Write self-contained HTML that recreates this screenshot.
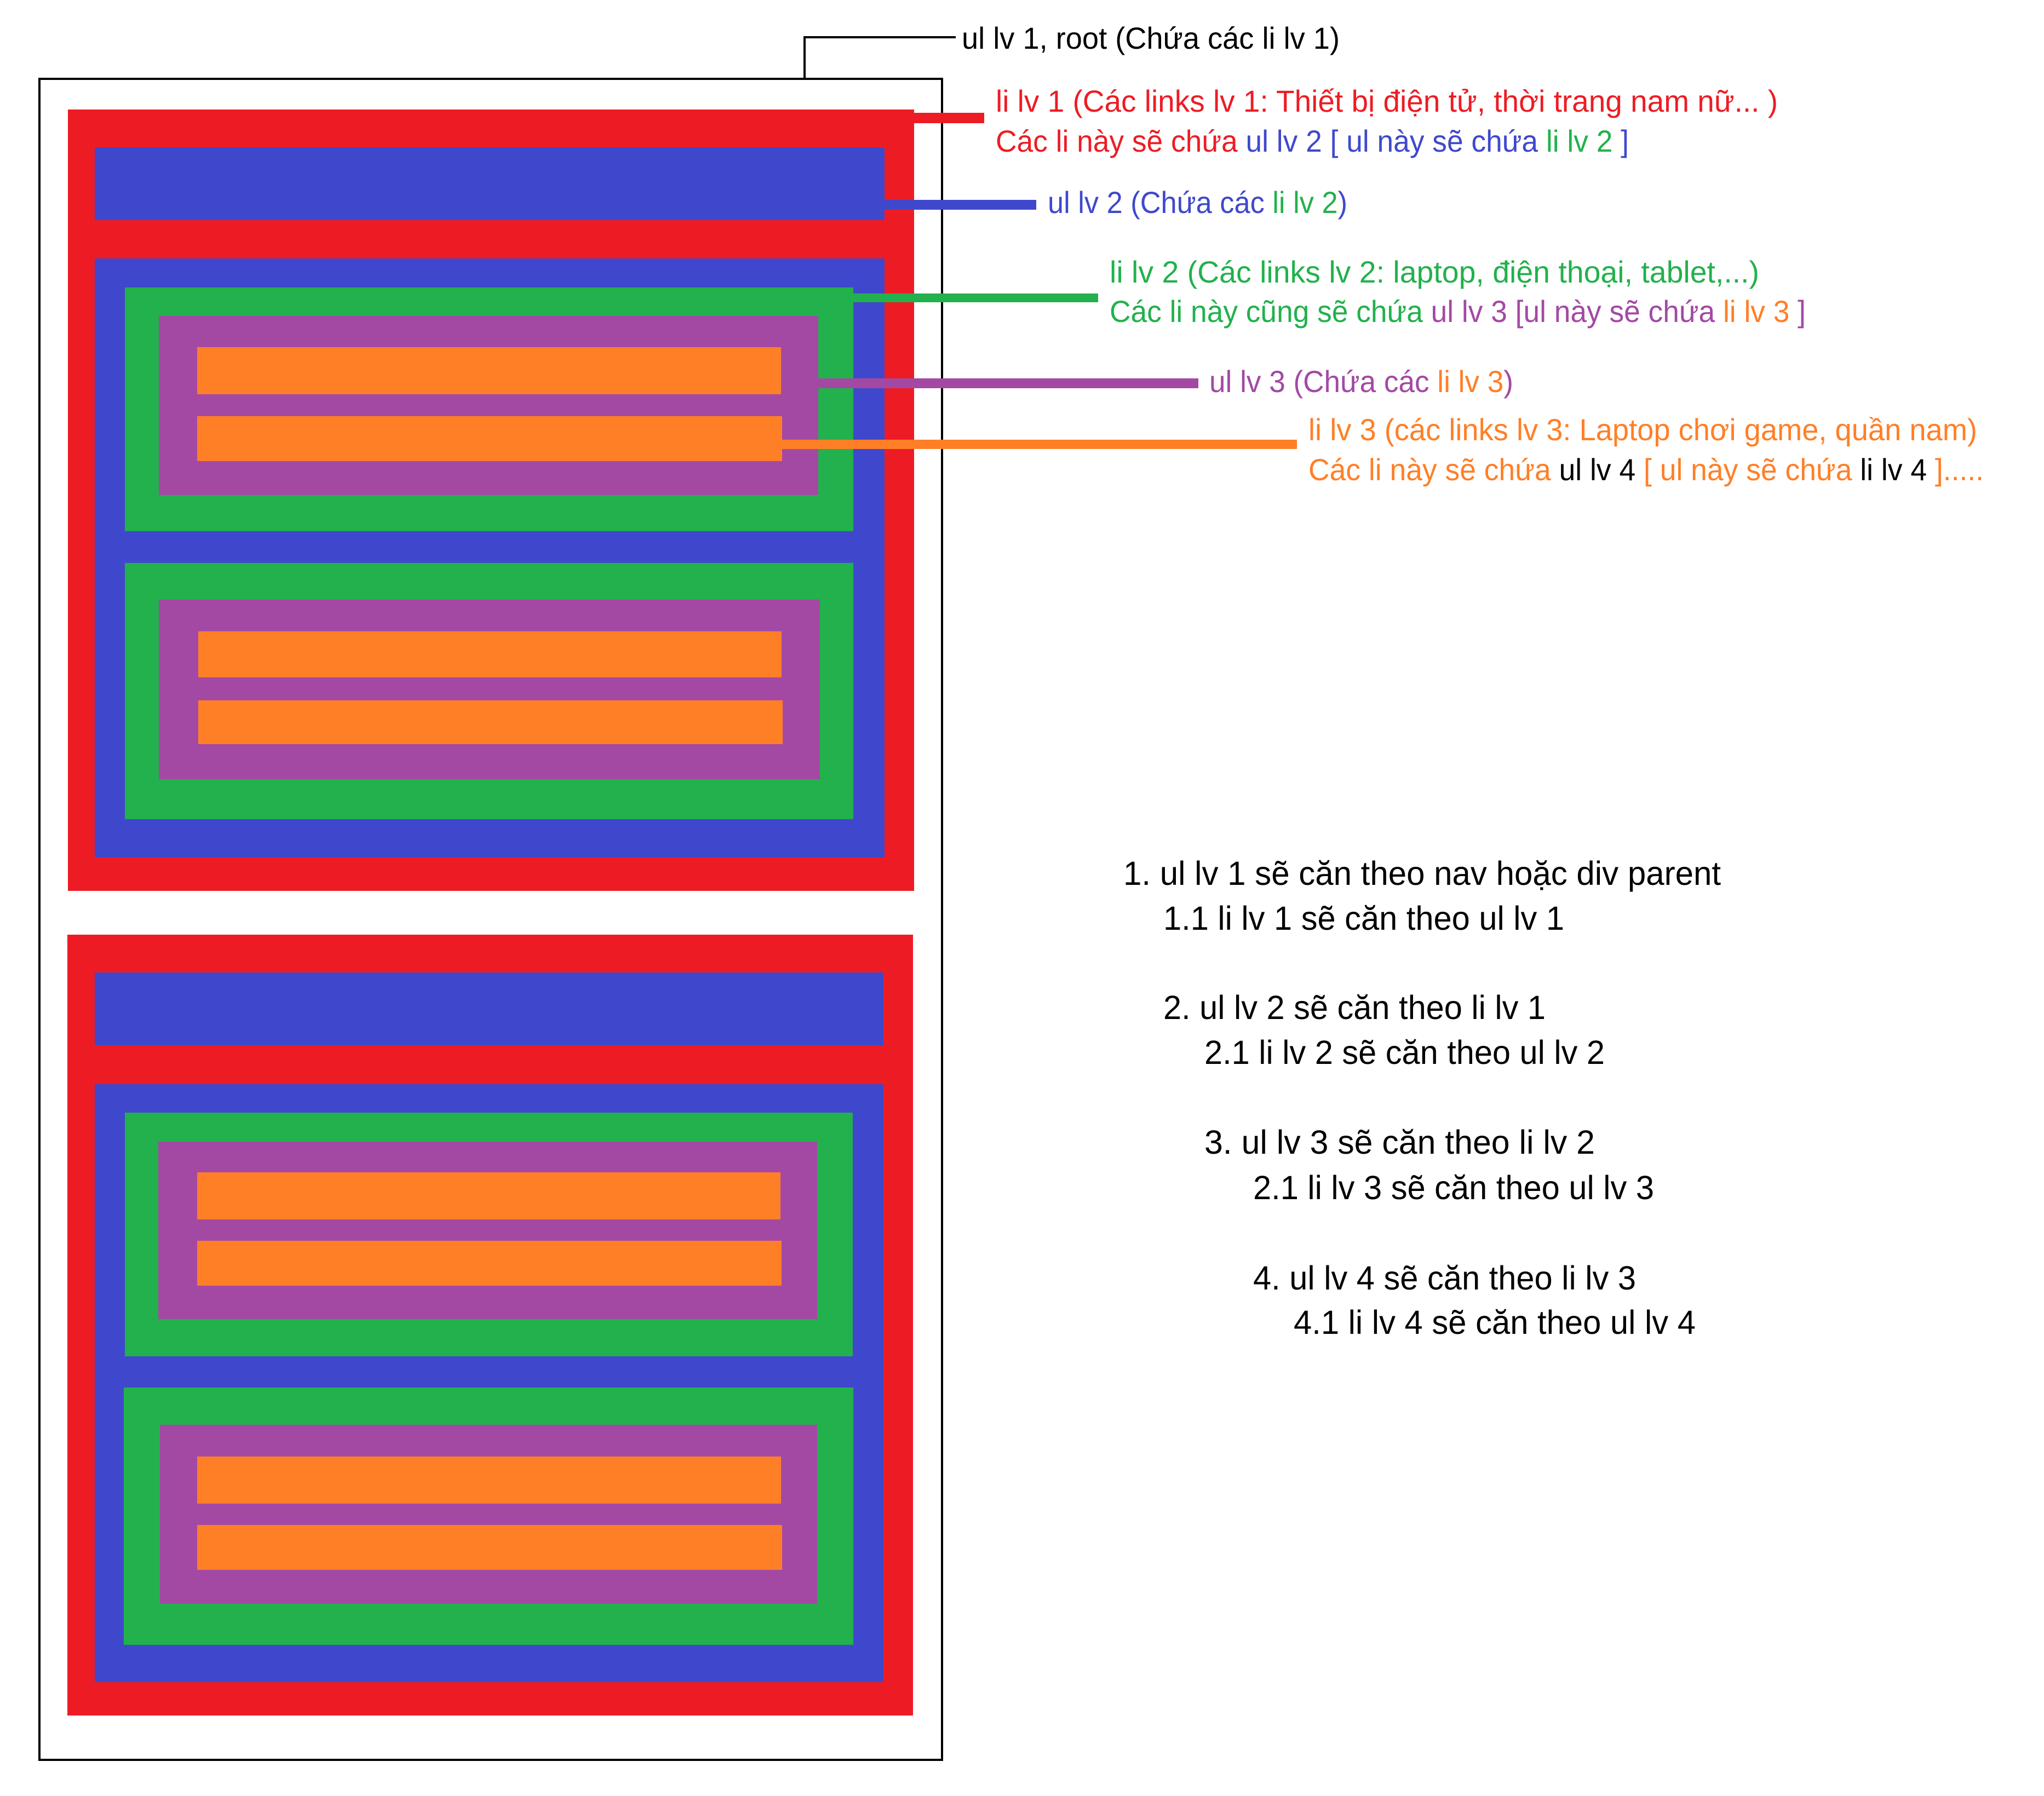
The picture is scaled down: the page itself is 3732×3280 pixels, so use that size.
<!DOCTYPE html>
<html><head><meta charset="utf-8"><style>
html,body{margin:0;padding:0;background:#fff;}
svg{display:block;}
text{font-family:"Liberation Sans",sans-serif;}
</style></head><body>
<svg width="3732" height="3280" viewBox="0 0 3732 3280" xmlns="http://www.w3.org/2000/svg">
<rect width="3732" height="3280" fill="#fff"/>
<rect x="72" y="144" width="1648" height="3070" fill="none" stroke="#000" stroke-width="4"/>
<polyline points="1469,144 1469,68 1745,68" fill="none" stroke="#000" stroke-width="4"/>

<rect x="124" y="200" width="1545" height="1427" fill="#ED1C24"/>
<rect x="173" y="269" width="1442" height="133" fill="#3F48CC"/>
<rect x="173" y="472" width="1442" height="1094" fill="#3F48CC"/>
<rect x="228" y="525" width="1330" height="445" fill="#22B14C"/>
<rect x="290" y="577" width="1204" height="327" fill="#A349A4"/>
<rect x="360" y="634" width="1066" height="86" fill="#FF7F27"/>
<rect x="360" y="760" width="1068" height="82" fill="#FF7F27"/>
<rect x="228" y="1028" width="1330" height="468" fill="#22B14C"/>
<rect x="290" y="1095" width="1207" height="328" fill="#A349A4"/>
<rect x="362" y="1153" width="1065" height="84" fill="#FF7F27"/>
<rect x="362" y="1279" width="1067" height="80" fill="#FF7F27"/>

<rect x="123" y="1707" width="1544" height="1426" fill="#ED1C24"/>
<rect x="173" y="1776" width="1440" height="133" fill="#3F48CC"/>
<rect x="173" y="1980" width="1440" height="1092" fill="#3F48CC"/>
<rect x="228" y="2032" width="1329" height="445" fill="#22B14C"/>
<rect x="289" y="2085" width="1203" height="324" fill="#A349A4"/>
<rect x="360" y="2141" width="1065" height="86" fill="#FF7F27"/>
<rect x="360" y="2266" width="1067" height="82" fill="#FF7F27"/>
<rect x="226" y="2534" width="1332" height="470" fill="#22B14C"/>
<rect x="292" y="2602" width="1200" height="327" fill="#A349A4"/>
<rect x="360" y="2660" width="1066" height="86" fill="#FF7F27"/>
<rect x="360" y="2785" width="1068" height="82" fill="#FF7F27"/>

<rect x="1669" y="206" width="128" height="19" fill="#ED1C24"/>
<rect x="1615" y="365" width="277" height="18" fill="#3F48CC"/>
<rect x="1558" y="536" width="447" height="16" fill="#22B14C"/>
<rect x="1494" y="691" width="694" height="18" fill="#A349A4"/>
<rect x="1428" y="803" width="940" height="17" fill="#FF7F27"/>

<g font-size="56">
<text x="1756" y="89" fill="#000" textLength="690" lengthAdjust="spacingAndGlyphs">ul lv 1, root (Chứa các li lv 1)</text>
<text x="1818" y="204" fill="#ED1C24" textLength="1428" lengthAdjust="spacingAndGlyphs">li lv 1 (Các links lv 1: Thiết bị điện tử, thời trang nam nữ... )</text>
<text x="1818" y="277" textLength="1156" lengthAdjust="spacingAndGlyphs"><tspan fill="#ED1C24">Các li này sẽ chứa </tspan><tspan fill="#3F48CC">ul lv 2 [ ul này sẽ chứa </tspan><tspan fill="#22B14C">li lv 2</tspan><tspan fill="#3F48CC"> ]</tspan></text>
<text x="1913" y="389" textLength="547" lengthAdjust="spacingAndGlyphs"><tspan fill="#3F48CC">ul lv 2 (Chứa các </tspan><tspan fill="#22B14C">li lv 2</tspan><tspan fill="#3F48CC">)</tspan></text>
<text x="2026" y="516" fill="#22B14C" textLength="1186" lengthAdjust="spacingAndGlyphs">li lv 2 (Các links lv 2: laptop, điện thoại, tablet,...)</text>
<text x="2026" y="588" textLength="1271" lengthAdjust="spacingAndGlyphs"><tspan fill="#22B14C">Các li này cũng sẽ chứa </tspan><tspan fill="#A349A4">ul lv 3 [ul này sẽ chứa </tspan><tspan fill="#FF7F27">li lv 3</tspan><tspan fill="#A349A4"> ]</tspan></text>
<text x="2208" y="716" textLength="555" lengthAdjust="spacingAndGlyphs"><tspan fill="#A349A4">ul lv 3 (Chứa các </tspan><tspan fill="#FF7F27">li lv 3</tspan><tspan fill="#A349A4">)</tspan></text>
<text x="2389" y="804" fill="#FF7F27" textLength="1221" lengthAdjust="spacingAndGlyphs">li lv 3 (các links lv 3: Laptop chơi game, quần nam)</text>
<text x="2389" y="877" textLength="1233" lengthAdjust="spacingAndGlyphs"><tspan fill="#FF7F27">Các li này sẽ chứa </tspan><tspan fill="#000">ul lv 4</tspan><tspan fill="#FF7F27"> [ ul này sẽ chứa </tspan><tspan fill="#000">li lv 4</tspan><tspan fill="#FF7F27"> ].....</tspan></text>
</g>

<g font-size="61" fill="#000">
<text x="2051" y="1616" textLength="1091" lengthAdjust="spacingAndGlyphs">1. ul lv 1 sẽ căn theo nav hoặc div parent</text>
<text x="2124" y="1698" textLength="732" lengthAdjust="spacingAndGlyphs">1.1 li lv 1 sẽ căn theo ul lv 1</text>
<text x="2124" y="1861" textLength="698" lengthAdjust="spacingAndGlyphs">2. ul lv 2 sẽ căn theo li lv 1</text>
<text x="2199" y="1943" textLength="731" lengthAdjust="spacingAndGlyphs">2.1 li lv 2 sẽ căn theo ul lv 2</text>
<text x="2199" y="2107" textLength="713" lengthAdjust="spacingAndGlyphs">3. ul lv 3 sẽ căn theo  li lv 2</text>
<text x="2288" y="2190" textLength="732" lengthAdjust="spacingAndGlyphs">2.1 li lv 3 sẽ căn theo ul lv 3</text>
<text x="2288" y="2355" textLength="699" lengthAdjust="spacingAndGlyphs">4. ul lv 4 sẽ căn theo li lv 3</text>
<text x="2362" y="2436" textLength="734" lengthAdjust="spacingAndGlyphs">4.1 li lv 4 sẽ căn theo ul lv 4</text>
</g>
</svg>
</body></html>
